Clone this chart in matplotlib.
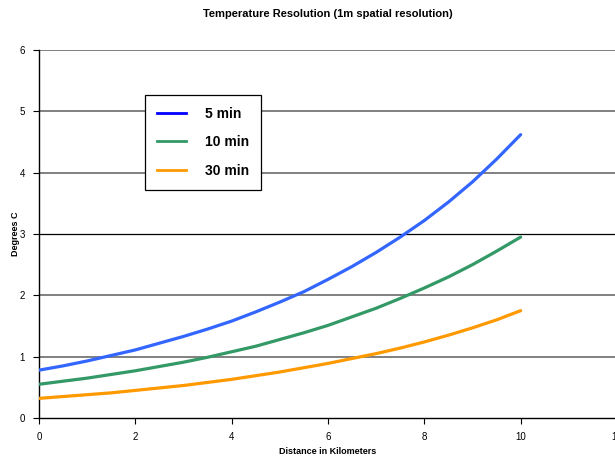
import matplotlib.pyplot as plt
from matplotlib.lines import Line2D

plt.rcParams['font.family'] = ['Liberation Sans', 'DejaVu Sans']

# distance (km) and temperature resolution
distance = [0, 0.5, 1, 1.5, 2, 2.5, 3, 3.5, 4, 4.5, 5,
            5.5, 6, 6.5, 7, 7.5, 8, 8.5, 9, 9.5, 10]
res_5min = [0.78, 0.85, 0.93, 1.02, 1.11, 1.22, 1.33, 1.45, 1.58, 1.73, 1.89,
            2.06, 2.26, 2.47, 2.70, 2.95, 3.22, 3.52, 3.85, 4.22, 4.62]
res_10min = [0.55, 0.60, 0.65, 0.71, 0.77, 0.84, 0.91, 0.99, 1.08, 1.17, 1.28,
             1.39, 1.51, 1.65, 1.79, 1.95, 2.12, 2.30, 2.50, 2.72, 2.95]
res_30min = [0.32, 0.35, 0.38, 0.41, 0.45, 0.49, 0.53, 0.58, 0.63, 0.69, 0.75,
             0.82, 0.89, 0.97, 1.05, 1.14, 1.24, 1.35, 1.47, 1.60, 1.75]
series_names = ['5 min', '10 min', '30 min']

fig = plt.figure(figsize=(6.15, 4.57), dpi=100)
ax = fig.add_axes([39 / 615, 39 / 457, 578 / 615, 368 / 457])

ax.set_xlim(0, 12)
ax.set_ylim(0, 6)
ax.set_xticks([0, 2, 4, 6, 8, 10, 12])
ax.set_yticks([0, 1, 2, 3, 4, 5, 6])

for y in [1, 2, 4, 5, 6]:
    ax.axhline(y, color='#808080', lw=1.4, zorder=1)
ax.axhline(3, color='black', lw=0.9, zorder=1)

ax.plot(distance, res_5min, color='#3366FF', lw=2.3, zorder=3, solid_capstyle='round')
ax.plot(distance, res_10min, color='#339966', lw=2.3, zorder=3, solid_capstyle='round')
ax.plot(distance, res_30min, color='#FF9900', lw=2.3, zorder=3, solid_capstyle='round')

for side in ['top', 'right']:
    ax.spines[side].set_visible(False)
ax.spines['left'].set_linewidth(1.0)
ax.spines['bottom'].set_linewidth(1.0)
ax.tick_params(axis='both', labelsize=7, length=4, width=0.8, direction='out', pad=6)

fig.text(328 / 615, 1 - 14 / 457, 'Temperature Resolution (1m spatial resolution)',
         fontsize=8, fontweight='bold', ha='center', va='center')
fig.text(328 / 615, 1 - 451 / 457, 'Distance in Kilometers',
         fontsize=6.5, fontweight='bold', ha='center', va='center')
fig.text(15 / 615, 1 - 234 / 457, 'Degrees C', rotation=90,
         fontsize=6.5, fontweight='bold', ha='center', va='center')

handles = [Line2D([], [], color='#0000FF', lw=2),
           Line2D([], [], color='#339966', lw=2),
           Line2D([], [], color='#FF9900', lw=2)]
leg = ax.legend(handles, series_names, loc='upper left',
                bbox_to_anchor=(106 / 578, 0.878), fancybox=False, framealpha=1,
                edgecolor='black', prop={'weight': 'bold', 'size': 10},
                handlelength=2.1, handletextpad=1.4, labelspacing=1.05,
                borderpad=0.85, borderaxespad=0)
leg.get_frame().set_linewidth(0.9)
leg.set_zorder(5)

fig.savefig('out.png', dpi=100)
